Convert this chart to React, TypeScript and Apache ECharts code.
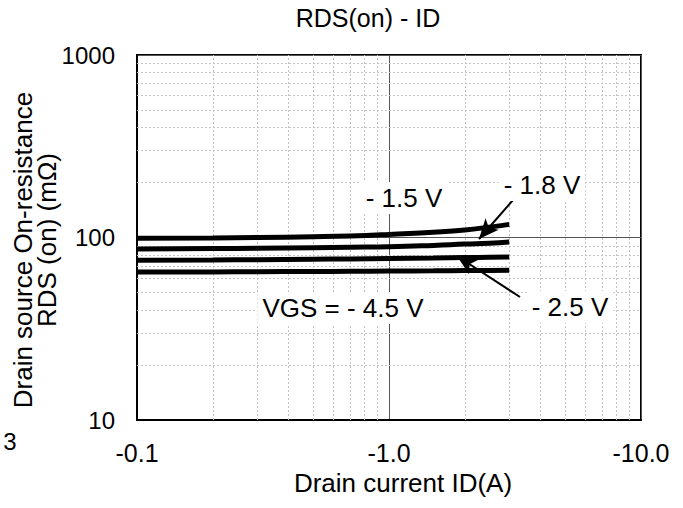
import React, { useEffect, useRef } from "react";
import * as echarts from "echarts";

const FONT = '"Liberation Sans", Arial, Helvetica, sans-serif';

const currents = [0.1, 0.2, 0.3, 0.5, 0.7, 1, 1.5, 2, 2.5, 3];
const rVgs15 = [99, 99.5, 100, 101, 102, 104, 107, 110, 114, 118];
const rVgs18 = [86.5, 87, 87.3, 88, 88.5, 89, 90.5, 92, 93, 94.5];
const rVgs25 = [75, 75.3, 75.6, 76, 76.3, 76.8, 77.2, 77.6, 77.9, 78.2];
const rVgs45 = [64.7, 64.8, 65, 65.1, 65.3, 65.5, 65.7, 65.9, 66, 66.1];

const xMinor = [0.2, 0.3, 0.4, 0.5, 0.6, 0.7, 0.8, 0.9, 2, 3, 4, 5, 6, 7, 8, 9];
const yMinor = [20, 30, 40, 50, 60, 70, 80, 90, 200, 300, 400, 500, 600, 700, 800, 900];

// arrows: [start, end] in data units (current A, resistance mΩ)
const arrow18 = [[3.31, 177.6], [2.275, 98.1]];
const arrow25 = [[3.31, 47.2], [1.861, 79.2]];

const pairs = (xs: number[], ys: number[]) => xs.map((x, i) => [x, ys[i]]);

export default function App() {
  const ref = useRef<HTMLDivElement>(null);
  useEffect(() => {
    document.body.style.margin = "0";
    const chart = echarts.init(ref.current!, null, { renderer: "svg" });
    const curve = (name: string, ys: number[]) => ({
      name,
      type: "line",
      data: pairs(currents, ys),
      smooth: true,
      showSymbol: false,
      symbol: "none",
      z: 5,
      lineStyle: { color: "#000", width: 5 },
    });
    const arrowLine = (a: number[][]) => [
      { coord: a[0], symbol: "none" },
      { coord: a[1], symbol: "arrow", symbolSize: [13, 20] },
    ];
    const labelText = (text: string, x: number, y: number) => ({
      type: "text",
      x,
      y,
      z: 100,
      style: {
        text,
        font: `26px ${FONT}`,
        fill: "#000",
        align: "center",
        verticalAlign: "middle",
        backgroundColor: "#fff",
        padding: [3, 5],
      },
    });
    chart.setOption({
      animation: false,
      backgroundColor: "#fff",
      textStyle: { fontFamily: FONT },
      grid: {
        left: 137,
        right: 42,
        top: 55,
        bottom: 88,
        show: true,
        borderColor: "#000",
        borderWidth: 2,
      },
      xAxis: {
        type: "log",
        logBase: 10,
        min: 0.1,
        max: 10,
        axisLine: { lineStyle: { color: "#000", width: 2 } },
        axisTick: { show: false },
        axisLabel: {
          color: "#000",
          fontSize: 25,
          fontFamily: FONT,
          margin: 20,
          formatter: (v: number) => "-" + v.toFixed(1),
        },
        splitLine: { show: true, lineStyle: { color: "#555", width: 1 } },
      },
      yAxis: {
        type: "log",
        logBase: 10,
        min: 10,
        max: 1000,
        axisLine: { lineStyle: { color: "#000", width: 2 } },
        axisTick: { show: false },
        axisLabel: {
          color: "#000",
          fontSize: 24,
          fontFamily: FONT,
          margin: 22,
          formatter: (v: number) => String(Math.round(v)),
        },
        splitLine: { show: true, lineStyle: { color: "#555", width: 1 } },
      },
      series: [
        {
          name: "grid",
          type: "line",
          data: [],
          z: 1,
          markLine: {
            silent: true,
            symbol: "none",
            label: { show: false },
            lineStyle: { color: "#c4c4c4", width: 1, type: [2, 2] },
            data: [
              ...xMinor.map((v) => ({ xAxis: v })),
              ...yMinor.map((v) => ({ yAxis: v })),
            ],
          },
        },
        curve("-1.5 V", rVgs15),
        curve("-1.8 V", rVgs18),
        curve("-2.5 V", rVgs25),
        curve("-4.5 V", rVgs45),
        {
          name: "arrows",
          type: "line",
          data: [],
          z: 6,
          markLine: {
            silent: true,
            label: { show: false },
            lineStyle: { color: "#000", width: 2, type: "solid" },
            data: [arrowLine(arrow18), arrowLine(arrow25)],
          },
        },
      ],
      graphic: [
        {
          type: "text",
          x: 368,
          y: 18,
          z: 100,
          style: {
            text: "RDS(on) - ID",
            font: `25px ${FONT}`,
            fill: "#000",
            align: "center",
            verticalAlign: "middle",
          },
        },
        {
          type: "text",
          x: 403,
          y: 483,
          z: 100,
          style: {
            text: "Drain current ID(A)",
            font: `26px ${FONT}`,
            fill: "#000",
            align: "center",
            verticalAlign: "middle",
          },
        },
        {
          type: "text",
          x: 23,
          y: 250,
          rotation: Math.PI / 2,
          z: 100,
          style: {
            text: "Drain source On-resistance",
            font: `26px ${FONT}`,
            fill: "#000",
            align: "center",
            verticalAlign: "middle",
          },
        },
        {
          type: "text",
          x: 47,
          y: 240,
          rotation: Math.PI / 2,
          z: 100,
          style: {
            text: "RDS (on) (mΩ)",
            font: `26px ${FONT}`,
            fill: "#000",
            align: "center",
            verticalAlign: "middle",
          },
        },
        {
          type: "text",
          x: 10,
          y: 441,
          z: 100,
          style: {
            text: "3",
            font: `24px ${FONT}`,
            fill: "#000",
            align: "center",
            verticalAlign: "middle",
          },
        },
        labelText("- 1.5 V", 404, 198),
        labelText("- 1.8 V", 542, 185),
        labelText("- 2.5 V", 570, 307),
        labelText("VGS = - 4.5 V", 343, 308),
      ],
    });
    return () => chart.dispose();
  }, []);
  return <div ref={ref} style={{ width: 683, height: 508 }} />;
}
